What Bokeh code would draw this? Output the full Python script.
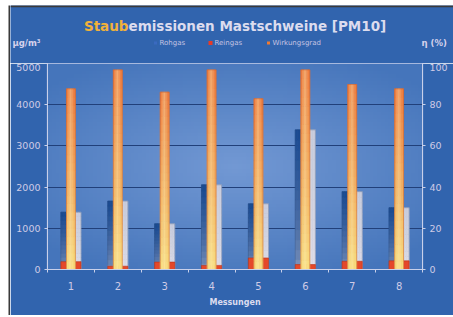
import numpy as np
from bokeh.plotting import figure
from bokeh.layouts import column, row
from bokeh.models import Range1d, LinearAxis, FixedTicker
from bokeh.core.properties import value
from bokeh.embed import file_html
from bokeh.resources import INLINE

# ---- data ----
messungen = ["1", "2", "3", "4", "5", "6", "7", "8"]
rohgas = [1390, 1660, 1110, 2055, 1595, 3390, 1890, 1500]        # µg/m³
reingas = [190, 80, 180, 100, 280, 120, 200, 210]                 # µg/m³
wirkungsgrad = [87.7, 96.9, 86.1, 96.9, 82.9, 96.9, 89.8, 87.7]   # %
y_ticks = [0, 1000, 2000, 3000, 4000, 5000]
pct_ticks = [0, 20, 40, 60, 80, 100]
series_names = ["Rohgas", "Reingas", "Wirkungsgrad"]


def hex2rgb(h):
    h = h.lstrip("#")
    return np.array([int(h[i:i + 2], 16) for i in (0, 2, 4)], dtype=float)


def mixrgb(a, b, t):
    return a * (1 - t) + b * t


def tohex(c):
    return "#%02x%02x%02x" % tuple(int(round(x)) for x in c)


BORDER = "#3164ae"
EDGE = "#3a3a3a"
CW = 443                      # canvas width
HH = 58                       # header height
MH = 252                      # main chart height
FW, FH = 375, 206
X0, Y0 = 10, 5                # page position of the canvas

# ---------------- thin dark left edge (a 2px wide empty plot) ----------------
ed = figure(width=2, height=HH + MH, output_backend="svg", toolbar_location=None,
            x_range=Range1d(0, 1), y_range=Range1d(0, 1),
            min_border=0, min_border_left=0, min_border_right=0, min_border_top=0, min_border_bottom=0)
ed.frame_align = False
ed.xaxis.visible = False
ed.yaxis.visible = False
ed.grid.visible = False
ed.outline_line_color = None
ed.background_fill_color = EDGE
ed.border_fill_color = EDGE

# ---------------- header (title, legend, unit labels) ----------------
# header coordinates are page pixels: x to the right, y downward
hd = figure(width=CW, height=HH, output_backend="svg", toolbar_location=None,
            x_range=Range1d(X0, X0 + CW), y_range=Range1d(Y0 + HH, Y0),
            min_border=0, min_border_left=0, min_border_right=0, min_border_top=0, min_border_bottom=0)
hd.frame_align = False
hd.xaxis.visible = False
hd.yaxis.visible = False
hd.xgrid.visible = False
hd.ygrid.visible = False
hd.outline_line_color = None
hd.background_fill_color = BORDER
hd.border_fill_color = BORDER


def htext(px, py, text, size, color, bold=False, align="left"):
    hd.text(x=[px], y=[py], text=[text], text_font=value("DejaVu Sans"),
            text_font_size=size, text_color=color,
            text_font_style="bold" if bold else "normal",
            text_align=align, text_baseline="middle")


htext(128, 25, "Staub", "13.5px", "#f2b23a", True, "right")
htext(128, 25, "emissionen Mastschweine [PM10]", "13.5px", "#dcdcee", True, "left")
htext(12, 42, "µg/m³", "8.5px", "#d6d2ec", True, "left")
htext(421, 42, "η (%)", "8.5px", "#d6d2ec", True, "left")

leg_x = [155, 210, 268]
leg_col = ["#3a6ac0", "#e83a26", "#f07a30"]
leg_size = [3, 4, 3]
for lx, nm, lc, ls in zip(leg_x, series_names, leg_col, leg_size):
    hd.scatter(x=[lx], y=[42.5], marker="square", size=ls, fill_color=lc, line_color=None)
    htext(lx + 4, 42.5, nm, "7px", "#c4c2e2", False, "left")

# dark top edge of the panel
hd.segment(x0=[X0], y0=[Y0 + 0.8], x1=[X0 + CW], y1=[Y0 + 0.8], line_color=EDGE, line_width=2)

# ---------------- main chart ----------------
p = figure(width=CW, height=MH, output_backend="svg", toolbar_location=None,
           x_range=Range1d(0.5, 8.5), y_range=Range1d(0, 5000),
           min_border_left=37, min_border_right=CW - 37 - FW, min_border_top=0,
           min_border_bottom=MH - FH)
p.frame_align = False
p.border_fill_color = BORDER
p.background_fill_color = "#4a7abf"
p.outline_line_color = "#c8d0ea"
p.outline_line_width = 1.2

# background gradient inside frame
H, W = 60, 100
yy, xx = np.mgrid[0:H, 0:W]
u = (xx / (W - 1)) * 2 - 1
v = (yy / (H - 1)) * 2 - 1
r = np.clip(np.sqrt(0.75 * u ** 2 + v ** 2), 0, 1.2) / 1.2
cen = hex2rgb("#7399d4")
edg = hex2rgb("#4575bb")
img = np.empty((H, W), dtype=np.uint32)
view = img.view(dtype=np.uint8).reshape((H, W, 4))
for k in range(3):
    view[..., k] = (cen[k] * (1 - r) + edg[k] * r).astype(np.uint8)
view[..., 3] = 255
p.image_rgba(image=[img], x=0.5, y=0, dw=8, dh=5000, level="image")

p.extra_y_ranges = {"pct": Range1d(0, 100)}
xs = [i + 1 for i in range(8)]

# ---- Rohgas bars (gradient) ----
wide = 0.43
nx, ny = 8, 14
L, R_, B, T, C = [], [], [], [], []
TL, BL, TR, BR = hex2rgb("#1a4a90"), hex2rgb("#90a0c2"), hex2rgb("#c9cddd"), hex2rgb("#e6e2ea")
for i, val in enumerate(rohgas):
    c = xs[i]
    for a in range(nx):
        t = (a + 0.5) / nx
        h = float(np.clip((t - 0.35) / 0.3, 0, 1))
        for b in range(ny):
            s = (b + 0.5) / ny
            col = mixrgb(mixrgb(BL, BR, h), mixrgb(TL, TR, h), s ** 0.5)
            L.append(c - wide / 2 + wide * a / nx)
            R_.append(c - wide / 2 + wide * (a + 1) / nx)
            B.append(val * b / ny)
            T.append(val * (b + 1) / ny)
            C.append(tohex(col))
p.quad(left=L, right=R_, bottom=B, top=T, fill_color=C, line_color=C, line_width=0.7)
p.vbar(x=xs, top=rohgas, width=wide, fill_color=None, line_color="#2c4c80", line_alpha=0.5, line_width=0.6)

# ---- Reingas bars ----
p.vbar(x=xs, top=reingas, width=wide, fill_color="#e4482a", line_color="#b83018", line_width=0.6)

# ---- Wirkungsgrad bars (gradient) ----
narrow = 0.19
nx2, ny2 = 5, 22
L, R_, B, T, C = [], [], [], [], []
OT, OB, HL = hex2rgb("#ee7434"), hex2rgb("#f8dc78"), hex2rgb("#fff6c0")
for i, val in enumerate(wirkungsgrad):
    c = xs[i]
    for a in range(nx2):
        t = (a + 0.5) / nx2
        h = 1 - abs(2 * t - 1)
        for b in range(ny2):
            s = (b + 0.5) / ny2
            col = mixrgb(mixrgb(OB, OT, s ** 0.9), HL, 0.4 * h)
            L.append(c - narrow / 2 + narrow * a / nx2)
            R_.append(c - narrow / 2 + narrow * (a + 1) / nx2)
            B.append(val * b / ny2)
            T.append(val * (b + 1) / ny2)
            C.append(tohex(col))
p.quad(left=L, right=R_, bottom=B, top=T, fill_color=C, line_color=C, line_width=0.7, y_range_name="pct")
p.vbar(x=xs, top=wirkungsgrad, width=narrow, fill_color=None, line_color="#c85a28",
       line_width=0.6, line_alpha=0.8, y_range_name="pct")

# ---- axes ----
lab_col = "#cfcbe6"
p.xgrid.grid_line_color = None
p.ygrid.ticker = FixedTicker(ticks=[1000, 2000, 3000, 4000])
p.ygrid.grid_line_color = "#21407a"
p.ygrid.grid_line_width = 1

xa = p.xaxis[0]
xa.ticker = FixedTicker(ticks=xs, minor_ticks=[i + 0.5 for i in range(9)])
xa.major_label_overrides = {xs[i]: m for i, m in enumerate(messungen)}
xa.major_tick_line_color = None
xa.minor_tick_out = 3
xa.minor_tick_in = 0
xa.minor_tick_line_color = "#c8d0ea"
xa.axis_line_color = "#c8d0ea"
xa.major_label_standoff = 6
xa.major_label_text_font = "DejaVu Sans"
xa.major_label_text_font_size = "10px"
xa.major_label_text_color = lab_col
xa.axis_label = "Messungen"
xa.axis_label_text_font = "DejaVu Sans"
xa.axis_label_text_font_size = "8px"
xa.axis_label_text_font_style = "bold"
xa.axis_label_text_color = "#dcdcee"
xa.axis_label_standoff = 5

ya = p.yaxis[0]
ya.ticker = FixedTicker(ticks=y_ticks)
ya.major_tick_out = 3
ya.major_tick_in = 0
ya.minor_tick_line_color = None
ya.major_tick_line_color = "#c8d0ea"
ya.axis_line_color = "#c8d0ea"
ya.major_label_standoff = 4
ya.major_label_text_font = "DejaVu Sans"
ya.major_label_text_font_size = "9.5px"
ya.major_label_text_color = lab_col

ra = LinearAxis(y_range_name="pct", ticker=FixedTicker(ticks=pct_ticks))
ra.major_tick_out = 3
ra.major_tick_in = 0
ra.minor_tick_line_color = None
ra.major_tick_line_color = "#c8d0ea"
ra.axis_line_color = "#c8d0ea"
ra.major_label_standoff = 4
ra.major_label_text_font = "DejaVu Sans"
ra.major_label_text_font_size = "9.5px"
ra.major_label_text_color = lab_col
p.add_layout(ra, "right")

layout = row(ed, column(hd, p, spacing=0), spacing=0)
layout.styles = {"margin-left": "%dpx" % (X0 - 2), "margin-top": "%dpx" % Y0}

open("out.html", "w").write(file_html(layout, INLINE))
